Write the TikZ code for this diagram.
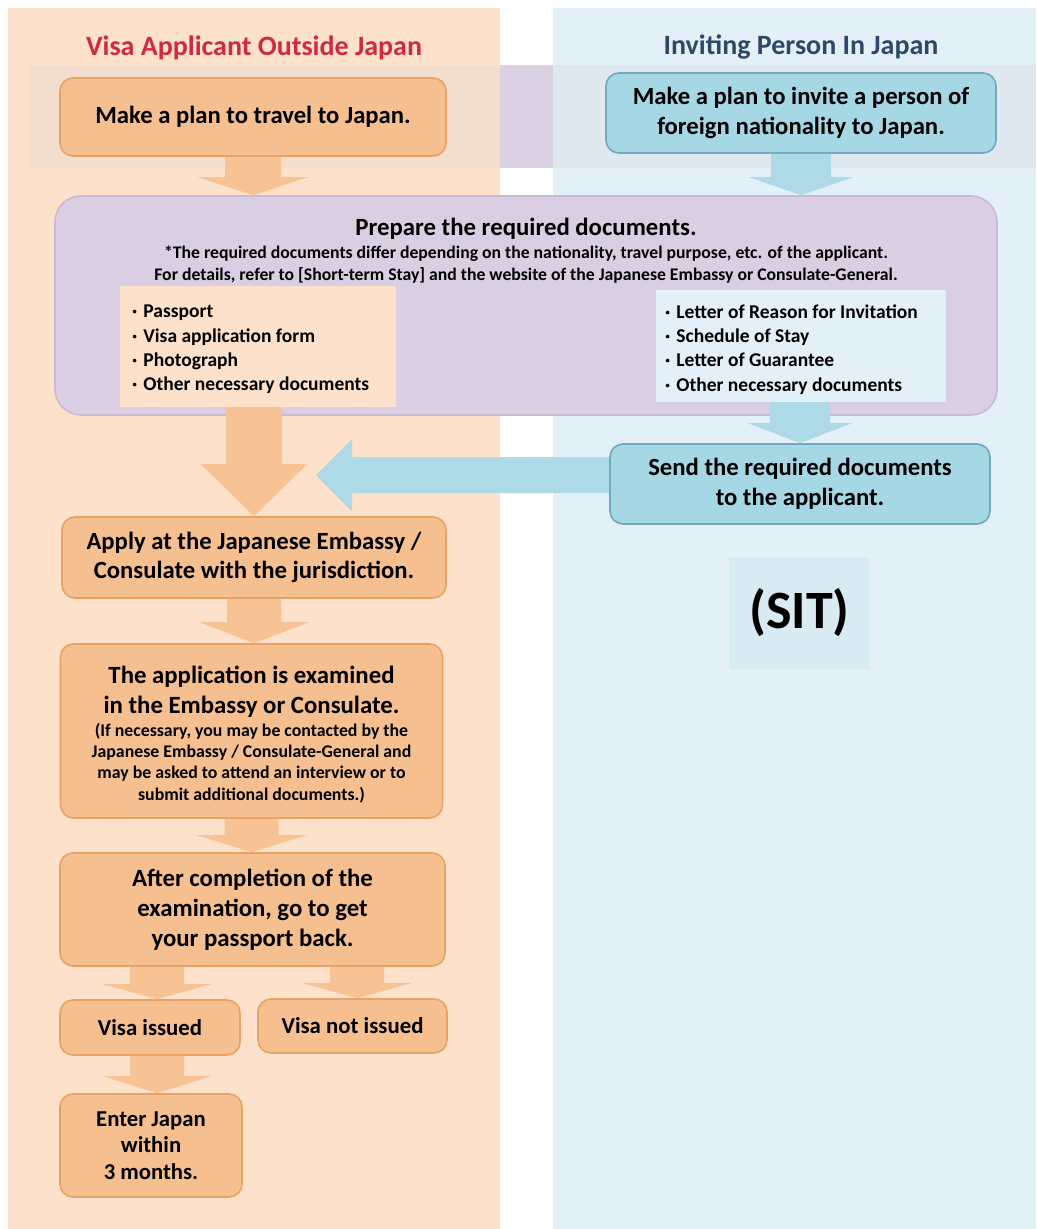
\documentclass[tikz,border=0pt]{standalone}
\usepackage{fontspec}
\setmainfont{Carlito}
\usetikzlibrary{calc}
\definecolor{peachbg}{HTML}{FDE1CA}
\definecolor{bluebg}{HTML}{E3F0F7}
\definecolor{ofill}{HTML}{F6BF8F}
\definecolor{oline}{HTML}{E9A265}
\definecolor{bfill}{HTML}{A6D7E5}
\definecolor{bline}{HTML}{72AABD}
\definecolor{pfill}{HTML}{D9CEE2}
\definecolor{pline}{HTML}{C9BAD8}
\definecolor{oarr}{HTML}{F8C394}
\definecolor{barr}{HTML}{ADDAE6}
\definecolor{titlered}{HTML}{CE2B3C}
\definecolor{titlenavy}{HTML}{2F4868}
\definecolor{bandL}{HTML}{F2DDCF}
\definecolor{bandM}{HTML}{DAD2E3}
\definecolor{bandR}{HTML}{DFE8EE}
\definecolor{sitbg}{HTML}{D8EAF2}

\newcommand{\downblk}[6]{\fill[#6] let \p1=(#1), \p2=(#2) in
  (\x1-#3,\y1) -- (\x1+#3,\y1) -- (\x1+#3,\y2+#5) -- (\x1+#4,\y2+#5) -- (\x1,\y2)
  -- (\x1-#4,\y2+#5) -- (\x1-#3,\y2+#5) -- cycle;}
\newcommand{\leftblk}[6]{\fill[#6] let \p1=(#1), \p2=(#2) in
  (\x1,\y1+#3) -- (\x1,\y1-#3) -- (\x2+#5,\y1-#3) -- (\x2+#5,\y1-#4) -- (\x2,\y1)
  -- (\x2+#5,\y1+#4) -- (\x2+#5,\y1+#3) -- cycle;}
\newcommand{\itm}{·\hspace{6pt}}

\tikzset{
  orangebox/.style={draw=oline, line width=1.6pt, fill=ofill, rounded corners=13pt,
    align=center, font=\fontsize{24.7}{29.5}\selectfont\bfseries, text=black, inner sep=0pt},
  bluebox/.style={draw=bline, line width=1.6pt, fill=bfill, rounded corners=13pt,
    align=center, font=\fontsize{24.7}{29.5}\selectfont\bfseries, text=black, inner sep=0pt},
  listbox/.style={inner sep=0pt, draw=none},
  listtext/.style={anchor=west, align=left, inner sep=0pt,
    font=\fontsize{19.5}{24.3}\selectfont\bfseries},
  plain/.style={inner sep=0pt, align=center, font=\bfseries},
  oarrow/.style={fill=oarr},
  barrow/.style={fill=barr}
}

\begin{document}
\begin{tikzpicture}[x=1pt,y=-1pt]
\useasboundingbox (0,0) rectangle (1038,1229);
\fill[white] (0,0) rectangle (1038,1229);
% column backgrounds
\fill[peachbg] (8,8) rectangle (500,1229);
\fill[bluebg] (553,8) rectangle (1036,1229);
% top band
\fill[bandL] (30,65) rectangle (500,168);
\fill[bandM] (500,65) rectangle (553,168);
\fill[bandR] (553,65) rectangle (1036,168);

% titles
\node[plain, text=titlered, font=\fontsize{28}{32}\selectfont\bfseries] (tl) at (254,48) {Visa Applicant Outside Japan};
\node[plain, text=titlenavy, font=\fontsize{28}{32}\selectfont\bfseries] (tr) at (801,47) {Inviting Person In Japan};

% top boxes
\node[orangebox, minimum width=386pt, minimum height=78pt] (b1) at (253,117) {Make a plan to travel to Japan.};
\node[bluebox, minimum width=390pt, minimum height=80pt] (b2) at (801,113) {Make a plan to invite a person of\\foreign nationality to Japan.};

% purple box
\node[draw=pline, line width=1.6pt, fill=pfill, rounded corners=26pt, minimum width=942pt, minimum height=219pt, inner sep=0pt] (pbox) at (526,305.5) {};
\node[plain, font=\fontsize{24.8}{28}\selectfont\bfseries] (ptitle) at (526,229) {Prepare the required documents.};
\node[plain, font=\fontsize{17.7}{21.5}\selectfont\bfseries] (pnote) at (526,264.5) {*The required documents differ depending on the nationality, travel purpose, etc. of the applicant.\\For details, refer to [Short-term Stay] and the website of the Japanese Embassy or Consulate-General.};
\node[listbox, fill=peachbg, minimum width=276pt, minimum height=121pt] (llist) at (258,346.5) {};
\node[listbox, fill=bluebg, minimum width=290pt, minimum height=112pt] (rlist) at (801,346) {};
\node[listtext] (llt) at (132,349.5) {\itm Passport\\\itm Visa application form\\\itm Photograph\\\itm Other necessary documents};
\node[listtext] (rlt) at (665,349.5) {\itm Letter of Reason for Invitation\\\itm Schedule of Stay\\\itm Letter of Guarantee\\\itm Other necessary documents};

% right column
\node[bluebox, minimum width=380pt, minimum height=80pt] (send) at (800,484) {Send the required documents\\to the applicant.};
\node[plain, fill=sitbg, minimum width=141pt, minimum height=112pt, font=\fontsize{54}{58}\selectfont\bfseries] (sit) at (799.5,613) {(SIT)};

% left column
\node[orangebox, minimum width=384pt, minimum height=81pt] (apply) at (254,557.5) {Apply at the Japanese Embassy /\\Consulate with the jurisdiction.};
\node[orangebox, minimum width=382pt, minimum height=174pt] (exam) at (251.5,731) {};
\node[plain, font=\fontsize{24.8}{30}\selectfont\bfseries] (examA) at (251.5,692) {The application is examined\\in the Embassy or Consulate.};
\node[plain, font=\fontsize{17.8}{21.3}\selectfont\bfseries] (examB) at (251.5,763) {(If necessary, you may be contacted by the\\Japanese Embassy / Consulate-General and\\may be asked to attend an interview or to\\submit additional documents.)};
\node[orangebox, minimum width=385pt, minimum height=113pt, font=\fontsize{24.8}{30}\selectfont\bfseries] (after) at (252.5,909.5) {After completion of the\\examination, go to get\\your passport back.};
\node[orangebox, minimum width=180pt, minimum height=55pt, font=\fontsize{22.8}{27}\selectfont\bfseries] (vi) at (150,1027.5) {Visa issued};
\node[orangebox, minimum width=189pt, minimum height=54pt, font=\fontsize{22.8}{27}\selectfont\bfseries] (vni) at (352.5,1026) {Visa not issued};
\node[orangebox, minimum width=182pt, minimum height=103pt, font=\fontsize{22.7}{26.3}\selectfont\bfseries] (enter) at (151,1145.5) {Enter Japan\\within\\3 months.};

% helper coordinates
\coordinate (cvi) at (157,0);
\coordinate (cvni) at (357,0);
\coordinate (tipL) at (316,475);

% block arrows
\downblk{b1.south}{b1.south |- pbox.north}{28}{55}{18}{oarrow}
\downblk{b2.south}{b2.south |- pbox.north}{30}{52}{18}{barrow}
\downblk{apply.north |- llist.south}{apply.north}{28}{53}{52}{oarrow}
\downblk{send.north |- rlist.south}{send.north}{30}{52}{20}{barrow}
\leftblk{send.west |- tipL}{tipL}{18}{36}{36}{barrow}
\downblk{apply.south}{exam.north}{27}{55}{21}{oarrow}
\downblk{exam.south}{after.north}{27}{55}{17}{oarrow}
\downblk{cvi |- after.south}{cvi |- vi.north}{27}{54}{15}{oarrow}
\downblk{cvni |- after.south}{cvni |- vni.north}{27}{54}{15}{oarrow}
\downblk{cvi |- vi.south}{cvi |- enter.north}{27}{54}{17}{oarrow}
\end{tikzpicture}
\end{document}
